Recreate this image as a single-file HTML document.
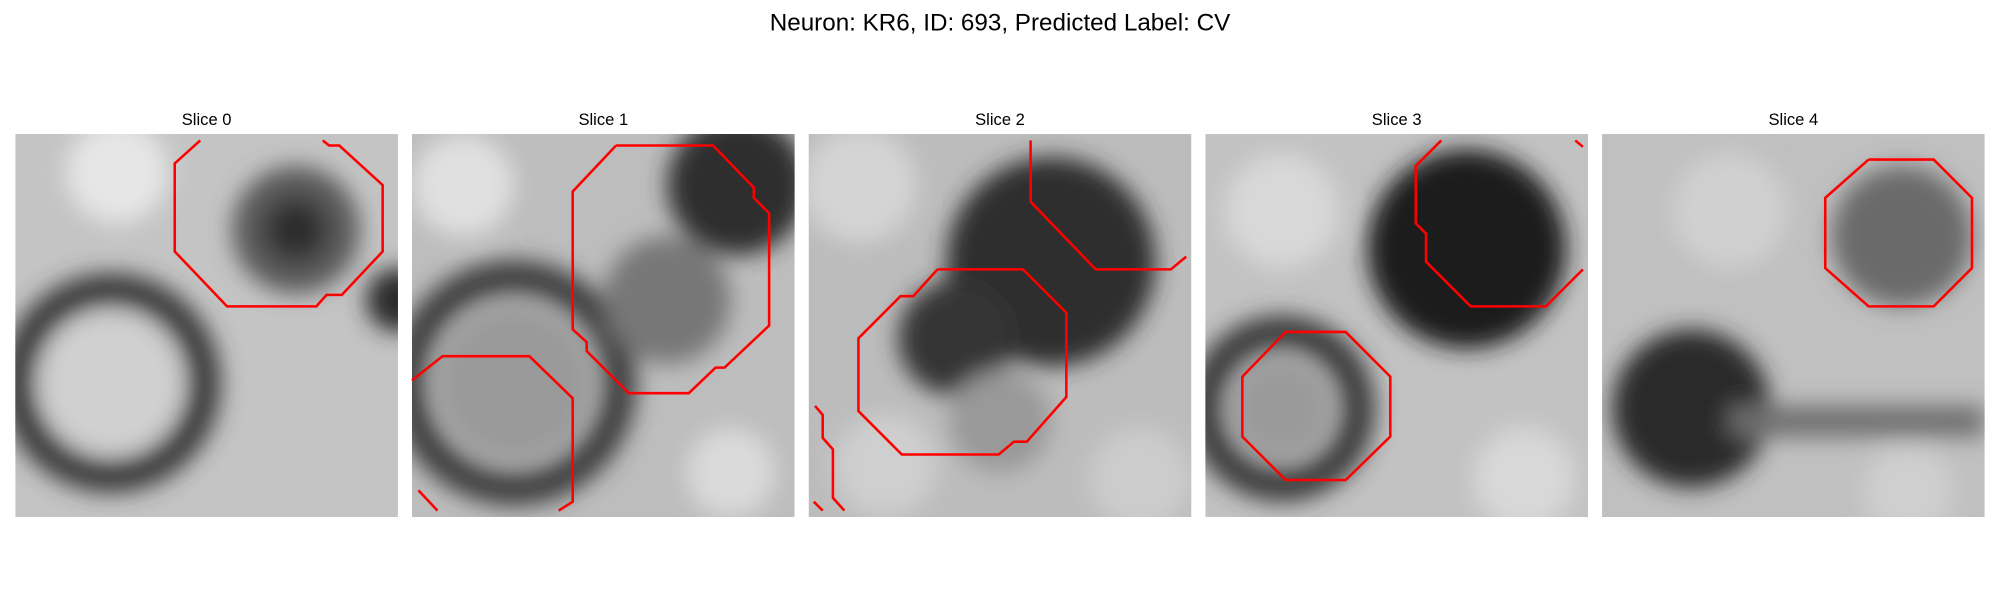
<!DOCTYPE html>
<html>
<head>
<meta charset="utf-8">
<style>
html,body{margin:0;padding:0;background:#fff;}
svg{display:block;}
text{font-family:"Liberation Sans","DejaVu Sans",sans-serif;fill:#000;}
</style>
</head>
<body>
<svg id="fig" width="2000" height="600" viewBox="0 0 1568 470" preserveAspectRatio="none" xmlns="http://www.w3.org/2000/svg">
<defs>
<filter id="blur" x="-20%" y="-20%" width="140%" height="140%"><feGaussianBlur stdDeviation="9"/></filter>
<clipPath id="clip"><rect x="0" y="0" width="300" height="300"/></clipPath>
</defs>
<text x="784" y="24" font-size="19" text-anchor="middle">Neuron: KR6, ID: 693, Predicted Label: CV</text>
<g id="panels"></g>
</svg>
<script>
const sliceTitles = ["Slice 0","Slice 1","Slice 2","Slice 3","Slice 4"];
const panelX = [12,323,634,945,1256];
const panelY = 105;
const panelBg = ["#c4c4c4","#bdbdbd","#bcbcbc","#c2c2c2","#c0c0c0"];
const blobs0 = [[75,195,85,"#3a3a3a","ring"],[75,195,55,"#d0d0d0","fill"],[220,75,50,"#5a5a5a","fill"],[220,75,25,"#2e2e2e","fill"],[300,130,25,"#2a2a2a","fill"],[80,30,40,"#e6e6e6","fill"]];
const blobs1 = [[80,195,95,"#3d3d3d","ring"],[80,195,62,"#9a9a9a","fill"],[255,40,55,"#2e2e2e","fill"],[200,130,50,"#777","fill"],[250,265,35,"#dadada","fill"],[40,40,40,"#e0e0e0","fill"]];
const blobs2 = [[190,100,82,"#2f2f2f","fill"],[115,160,45,"#353535","fill"],[150,225,40,"#999","fill"],[40,40,45,"#d4d4d4","fill"],[60,260,40,"#cfcfcf","fill"],[260,270,40,"#cccccc","fill"]];
const blobs3 = [[205,90,78,"#1e1e1e","fill"],[60,215,72,"#3a3a3a","ring"],[60,215,40,"#9a9a9a","fill"],[250,270,40,"#d8d8d8","fill"],[60,60,45,"#d8d8d8","fill"]];
const blobs4 = [[235,80,55,"#6a6a6a","fill"],[70,215,62,"#2c2c2c","fill"],[200,225,100,"#6e6e6e","band"],[100,60,45,"#d0d0d0","fill"],[240,280,35,"#cfcfcf","fill"]];
const allBlobs = [blobs0,blobs1,blobs2,blobs3,blobs4];
const contours0 = [[[157,110],[137,128],[137,197],[178,240],[248,240],[256,231],[268,231],[300,197],[300,145],[266,114],[258,114],[253,110]]];
const contours1 = [[[483,114],[559,114],[591,147],[591,155],[603,167],[603,255],[568,288],[561,288],[540,308],[493,308],[460,275],[460,268],[449,258],[449,150],[483,114]],[[323,298],[347,279],[415,279],[449,312],[449,393],[438,400]],[[328,384],[343,400]]];
const contours2 = [[[808,110],[808,158],[859,211],[918,211],[930,201]],[[735,211],[802,211],[836,245],[836,311],[805,346],[795,346],[783,356],[707,356],[673,322],[673,265],[706,232],[716,232],[735,211]],[[639,318],[645,325],[645,343],[653,352],[653,390],[662,400]],[[638,393],[645,400]]];
const contours3 = [[[1130,110],[1110,130],[1110,175],[1118,183],[1118,205],[1153,240],[1212,240],[1241,211]],[[1008,260],[1055,260],[1090,295],[1090,342],[1055,376],[1008,376],[974,342],[974,295],[1008,260]],[[1235,110],[1241,115]]];
const contours4 = [[[1465,125],[1516,125],[1546,155],[1546,210],[1516,240],[1465,240],[1431,210],[1431,155],[1465,125]]];
const allContours = [contours0,contours1,contours2,contours3,contours4];

const NS = "http://www.w3.org/2000/svg";
const root = document.getElementById("panels");
for (let i = 0; i < 5; i++) {
  const g = document.createElementNS(NS, "g");
  
  
  root.appendChild(g);
  const t = document.createElementNS(NS, "text");
  
  
  t.setAttribute("x", panelX[i] + 150); t.setAttribute("y", 98);
  t.setAttribute("font-size", "13"); t.setAttribute("text-anchor", "middle");
  t.textContent = sliceTitles[i];
  g.appendChild(t);
  const img = document.createElementNS(NS, "g");
  
  
  img.setAttribute("transform", `translate(${panelX[i]},${panelY})`);
  img.setAttribute("clip-path", "url(#clip)");
  g.appendChild(img);
  const bg = document.createElementNS(NS, "rect");
  bg.setAttribute("width", 300); bg.setAttribute("height", 300); bg.setAttribute("fill", panelBg[i]);
  img.appendChild(bg);
  const bl = document.createElementNS(NS, "g");
  bl.setAttribute("filter", "url(#blur)");
  img.appendChild(bl);
  for (const b of allBlobs[i]) {
    let el;
    if (b[4] === "band") {
      el = document.createElementNS(NS, "rect");
      el.setAttribute("x", b[0] - b[2]); el.setAttribute("y", b[1] - 12);
      el.setAttribute("width", b[2] * 2); el.setAttribute("height", 24);
      el.setAttribute("fill", b[3]);
    } else {
      el = document.createElementNS(NS, "circle");
      el.setAttribute("cx", b[0]); el.setAttribute("cy", b[1]);
      if (b[4] === "ring") {
        el.setAttribute("r", b[2] - 12); el.setAttribute("fill", "none");
        el.setAttribute("stroke", b[3]); el.setAttribute("stroke-width", 26);
      } else {
        el.setAttribute("r", b[2]); el.setAttribute("fill", b[3]);
      }
    }
    
    
    bl.appendChild(el);
  }
  for (const c of allContours[i]) {
    const p = document.createElementNS(NS, "polyline");
    
    
    p.setAttribute("points", c.map(q => q[0] + "," + q[1]).join(" "));
    p.setAttribute("fill", "none"); p.setAttribute("stroke", "#ff0000");
    p.setAttribute("stroke-width", "2");
    g.appendChild(p);
  }
}
</script>
</body>
</html>
